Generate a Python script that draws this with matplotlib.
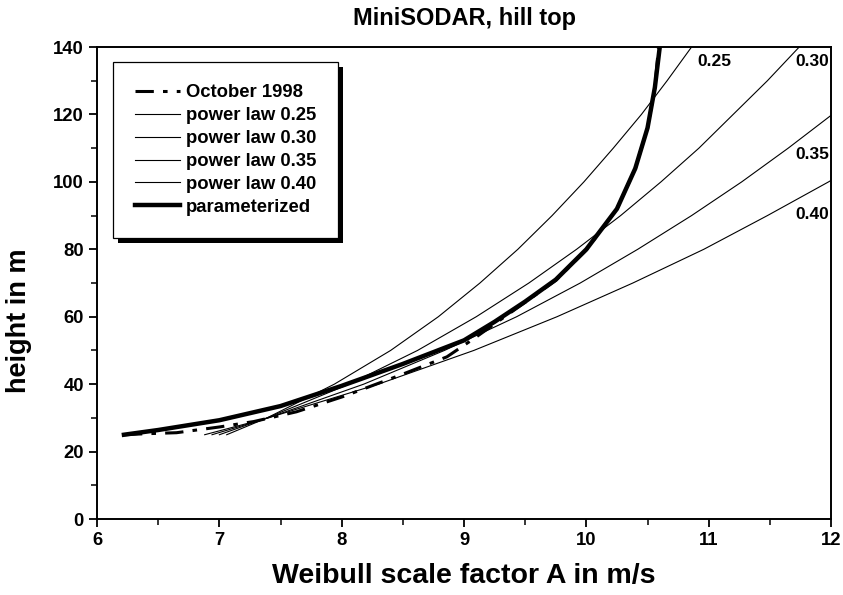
import matplotlib
matplotlib.use("Agg")
import matplotlib.pyplot as plt
from matplotlib.ticker import MultipleLocator
from matplotlib.patches import Rectangle

plt.rcParams['font.family'] = ['Liberation Sans', 'DejaVu Sans']
plt.rcParams['font.weight'] = 'bold'

# measured profile, October 1998
oct_speed = [6.22, 6.40, 6.65, 7.00, 7.28, 7.63, 8.01, 8.48, 8.86, 9.08, 9.50, 9.75, 10.00, 10.25, 10.40, 10.50, 10.56, 10.59]
oct_height = [25.0, 25.3, 25.6, 27.3, 28.9, 31.8, 36.3, 42.7, 48.1, 53.5, 64.3, 70.8, 79.8, 92.0, 104.0, 116.0, 128.0, 140.0]

# parameterized profile
par_speed = [6.22, 6.50, 7.00, 7.50, 8.00, 8.50, 9.00, 9.25, 9.50, 9.75, 10.00, 10.25, 10.40, 10.50, 10.56, 10.60]
par_height = [25.0, 26.4, 29.3, 33.5, 39.5, 46.0, 53.0, 58.5, 64.5, 71.0, 80.0, 92.0, 104.0, 116.0, 128.0, 140.0]

# power law profiles
pl_height = [25, 30, 40, 50, 60, 70, 80, 90, 100, 110, 120, 130, 140]
pl_025 = [7.06, 7.39, 7.94, 8.40, 8.79, 9.13, 9.44, 9.72, 9.98, 10.22, 10.45, 10.66, 10.86]
pl_030 = [7.00, 7.39, 8.06, 8.62, 9.10, 9.53, 9.92, 10.28, 10.61, 10.92, 11.20, 11.48, 11.74]
pl_035 = [6.94, 7.40, 8.18, 8.84, 9.43, 9.95, 10.42, 10.86, 11.27, 11.65, 12.01]
pl_040 = [6.88, 7.40, 8.30, 9.08, 9.76, 10.38, 10.96, 11.48, 11.98, 12.44]

fig = plt.figure(figsize=(8.43, 5.95), dpi=100)
ax = fig.add_axes([0.1151, 0.1277, 0.8707, 0.7933])

ax.plot(oct_speed, oct_height, color='k', lw=2.2, dashes=(6, 3, 1.5, 3), label='October 1998')
ax.plot(pl_025, pl_height, color='k', lw=0.8, label='power law 0.25')
ax.plot(pl_030, pl_height[:len(pl_030)], color='k', lw=0.8, label='power law 0.30')
ax.plot(pl_035, pl_height[:len(pl_035)], color='k', lw=0.8, label='power law 0.35')
ax.plot(pl_040, pl_height[:len(pl_040)], color='k', lw=0.8, label='power law 0.40')
ax.plot(par_speed, par_height, color='k', lw=3.2, label='parameterized')

ax.text(10.91, 135.6, '0.25', fontsize=12.5, fontweight='bold', va='center')
ax.text(11.71, 135.6, '0.30', fontsize=12.5, fontweight='bold', va='center')
ax.text(11.71, 108.0, '0.35', fontsize=12.5, fontweight='bold', va='center')
ax.text(11.71, 90.2, '0.40', fontsize=12.5, fontweight='bold', va='center')

ax.set_xlim(6, 12)
ax.set_ylim(0, 140)
ax.xaxis.set_major_locator(MultipleLocator(1))
ax.xaxis.set_minor_locator(MultipleLocator(0.5))
ax.yaxis.set_major_locator(MultipleLocator(20))
ax.yaxis.set_minor_locator(MultipleLocator(10))
ax.tick_params(which='major', direction='out', length=6, width=1.3, labelsize=13.3)
ax.tick_params(which='minor', direction='out', length=4, width=1.1)
for s in ax.spines.values():
    s.set_linewidth(1.4)

ax.set_xlabel('Weibull scale factor A in m/s', fontsize=20.5, fontweight='bold', labelpad=10)
ax.set_ylabel('height in m', fontsize=19.5, fontweight='bold')
ax.yaxis.set_label_coords(-0.088, 0.42)
ax.set_title('MiniSODAR, hill top', fontsize=17, fontweight='bold', pad=16)

leg = ax.legend(loc='upper left', bbox_to_anchor=(0.022, 0.968), borderaxespad=0,
                fontsize=13.3, fancybox=False, edgecolor='k', framealpha=1,
                borderpad=1.2, labelspacing=0.32, handlelength=2.4, handletextpad=0.33)
leg.get_frame().set_linewidth(0.9)

# solid black drop shadow behind the legend box
fig.canvas.draw()
bb = leg.get_window_extent()
ax.add_patch(Rectangle((bb.x0 + 5, bb.y0 - 5), bb.width, bb.height, transform=None,
                       facecolor='k', edgecolor='none', zorder=4.9, clip_on=False))

fig.savefig('out.png', dpi=100)
